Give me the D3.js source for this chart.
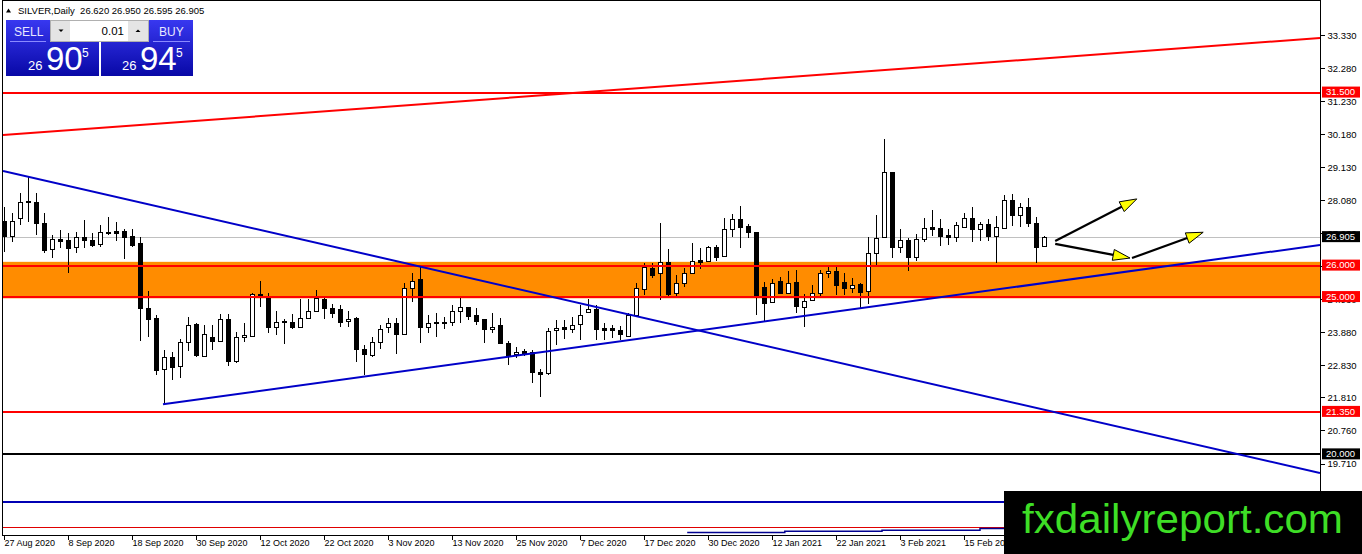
<!DOCTYPE html>
<html>
<head>
<meta charset="utf-8">
<script src="https://cdnjs.cloudflare.com/ajax/libs/d3/7.8.5/d3.min.js"></script>
<style>
  body { margin: 0; background: #fff; }
  svg { display: block; }
</style>
</head>
<body>
<script>
'use strict';

// daily OHLC, SILVER, 27 Aug 2020 .. 26 Feb 2021
var opens = [
  27.41, 26.94, 27.51, 28.05, 28.02, 27.35, 26.52, 26.84, 26.81, 26.59,
  26.90, 26.81, 26.68, 27.07, 27.10, 27.10, 26.94, 26.71, 24.64, 24.33,
  22.70, 23.08, 22.80, 23.56, 24.14, 23.12, 23.72, 23.59, 24.29, 22.96,
  23.72, 23.75, 25.09, 25.03, 24.04, 24.23, 24.20, 24.04, 24.33, 24.55,
  24.93, 24.64, 24.61, 24.23, 24.33, 23.34, 23.15, 23.56, 24.04, 24.17,
  23.82, 25.28, 25.57, 24.04, 24.20, 24.20, 24.20, 24.55, 24.68, 24.42,
  24.29, 23.98, 24.10, 23.53, 23.18, 23.28, 23.24, 22.61, 22.58, 23.94,
  24.04, 23.98, 24.13, 24.52, 24.61, 24.01, 24.01, 23.94, 23.75, 24.42,
  25.25, 25.92, 25.76, 26.11, 25.12, 25.44, 25.76, 26.17, 26.14, 26.59,
  26.30, 27.16, 27.48, 27.25, 27.06, 25.31, 24.84, 25.50, 25.12, 25.47,
  24.68, 24.90, 25.12, 25.76, 25.82, 25.47, 25.28, 25.41, 25.19, 26.39,
  26.90, 28.97, 26.59, 26.81, 26.27, 26.84, 27.22, 27.19, 26.97, 26.90,
  27.22, 27.51, 27.16, 27.32, 26.94, 27.19, 28.08, 27.60, 27.86, 27.35,
  26.620
];
var highs = [
  27.86, 27.67, 28.30, 28.81, 28.30, 27.67, 26.97, 27.13, 27.03, 27.06,
  27.44, 27.03, 27.29, 27.54, 27.38, 27.16, 27.16, 26.90, 25.19, 24.42,
  23.31, 23.24, 23.66, 24.36, 24.17, 24.10, 24.10, 24.45, 24.45, 23.88,
  24.17, 25.12, 25.50, 25.12, 24.55, 24.29, 24.45, 24.93, 24.93, 25.22,
  24.96, 24.77, 24.74, 24.55, 24.36, 23.47, 23.72, 24.10, 24.33, 24.33,
  25.44, 25.76, 25.95, 24.42, 24.49, 24.36, 24.74, 24.96, 24.68, 24.64,
  24.29, 24.49, 24.33, 23.59, 23.40, 23.34, 23.31, 22.70, 24.01, 24.26,
  24.26, 24.36, 24.74, 24.93, 24.74, 24.17, 24.10, 24.07, 24.49, 25.44,
  26.08, 26.08, 27.35, 26.52, 25.69, 25.92, 26.71, 26.55, 26.62, 26.65,
  27.51, 27.64, 27.89, 27.32, 27.06, 25.47, 25.57, 25.63, 25.82, 25.85,
  25.09, 25.38, 25.85, 25.95, 25.95, 25.76, 25.60, 25.44, 26.90, 27.60,
  30.02, 28.97, 27.16, 26.87, 27.00, 27.51, 27.76, 27.48, 27.16, 27.38,
  27.67, 27.86, 27.38, 27.48, 27.57, 28.24, 28.27, 27.99, 28.14, 27.54,
  26.950
];
var lows = [
  26.43, 26.74, 27.29, 27.38, 26.97, 26.40, 26.24, 26.55, 25.76, 26.39,
  26.55, 26.59, 26.59, 26.97, 26.78, 26.20, 26.59, 23.59, 23.72, 22.51,
  21.59, 22.35, 22.42, 23.28, 23.09, 23.09, 23.31, 23.56, 22.80, 22.90,
  23.56, 23.72, 24.68, 23.85, 23.79, 23.50, 23.98, 24.04, 24.29, 24.52,
  24.29, 24.33, 24.04, 24.04, 22.93, 22.51, 23.09, 23.34, 23.85, 23.18,
  23.82, 24.84, 23.53, 23.85, 23.72, 23.98, 24.07, 24.17, 24.26, 24.10,
  23.53, 23.85, 23.50, 22.83, 23.05, 23.12, 22.26, 21.81, 22.51, 23.47,
  23.66, 23.85, 23.63, 24.49, 23.63, 23.63, 23.69, 23.63, 23.72, 24.36,
  25.06, 25.60, 24.90, 25.00, 25.03, 25.31, 25.73, 25.89, 26.11, 26.14,
  26.27, 26.90, 26.55, 26.87, 24.42, 24.20, 24.80, 25.09, 25.09, 24.49,
  24.04, 24.87, 24.96, 25.60, 25.06, 25.06, 25.12, 24.64, 24.77, 26.01,
  26.90, 26.24, 26.39, 25.82, 26.14, 26.74, 26.94, 26.62, 26.65, 26.74,
  27.19, 26.74, 26.78, 26.78, 26.08, 27.19, 27.25, 27.22, 27.22, 26.08,
  26.595
];
var closes = [
  26.94, 27.41, 28.02, 28.04, 27.35, 26.49, 26.84, 26.78, 26.55, 26.90,
  26.81, 26.65, 27.06, 27.06, 27.03, 26.90, 26.65, 24.64, 24.29, 22.67,
  23.08, 22.77, 23.56, 24.10, 23.15, 23.82, 23.59, 24.29, 22.96, 23.72,
  23.78, 25.09, 25.03, 24.04, 24.20, 24.20, 24.04, 24.33, 24.55, 24.96,
  24.64, 24.49, 24.20, 24.29, 23.34, 23.18, 23.56, 23.98, 24.17, 23.82,
  25.28, 25.50, 24.04, 24.17, 24.17, 24.21, 24.55, 24.68, 24.39, 24.23,
  23.98, 24.04, 23.53, 23.15, 23.24, 23.21, 22.61, 22.54, 23.91, 24.01,
  23.98, 24.10, 24.42, 24.61, 23.98, 23.94, 23.94, 23.82, 24.42, 25.28,
  25.95, 25.69, 26.11, 25.09, 25.44, 25.76, 26.14, 26.11, 26.59, 26.27,
  27.16, 27.48, 27.22, 27.06, 25.06, 24.80, 25.44, 25.12, 25.44, 24.71,
  24.87, 25.12, 25.76, 25.82, 25.38, 25.28, 25.38, 25.15, 26.39, 26.87,
  28.97, 26.59, 26.81, 26.27, 26.84, 27.19, 27.16, 26.94, 26.90, 27.29,
  27.51, 27.16, 27.32, 26.94, 27.22, 28.08, 27.60, 27.86, 27.35, 26.59,
  26.905
];

var dateTickBars = [0, 8, 16, 24, 32, 40, 48, 56, 64, 72, 80, 88, 96, 104, 112, 120];
var dateTickLabels = [
  '27 Aug 2020', '8 Sep 2020', '18 Sep 2020', '30 Sep 2020', '12 Oct 2020',
  '22 Oct 2020', '3 Nov 2020', '13 Nov 2020', '25 Nov 2020', '7 Dec 2020',
  '17 Dec 2020', '30 Dec 2020', '12 Jan 2021', '22 Jan 2021', '3 Feb 2021',
  '15 Feb 2021'
];
var priceTicks = [33.33, 32.28, 31.23, 30.18, 29.13, 28.08, 27.03, 25.98,
  24.93, 23.88, 22.83, 21.81, 20.76, 19.71];

// drawn objects: levels, zone, trendlines [bar, price]
var redLevels = [31.5, 26.0, 25.0, 21.35];
var blackLevels = [20.0];
var zone = [24.96, 26.12];
var redTrend = [[-0.125, 30.15], [164.5, 33.235]];
var blueDownTrend = [[-0.125, 29.01], [164.5, 19.41]];
var blueUpTrend = [[19.875, 21.59], [164.5, 26.655]];
var blueLowLevel = 18.50;
var redLowLevel = 17.69;
var stepLine = [[85.4, 17.52], [97.6, 17.56], [109.75, 17.59], [122, 17.64], [126, 17.64]];
var arrows = [
  [[131.4, 26.78], [141.6, 28.12]],
  [[131.4, 26.69], [140.75, 26.24]],
  [[141.0, 26.24], [149.9, 27.06]]
];
var bid = '26.905', ask = '26.945', lot = '0.01';

var W = 1362, H = 554;
var plotL = 2.5, plotR = 1320.5, plotT = 0.5, plotB = 535.5;

var svg = d3.select('body').append('svg')
    .attr('width', W)
    .attr('height', H)
    .style('font-family', '"Liberation Sans", Arial, sans-serif');

var defs = svg.append('defs');
defs.append('clipPath').attr('id', 'plot-clip')
  .append('rect')
    .attr('x', plotL + 0.5).attr('y', plotT + 0.5)
    .attr('width', plotR - plotL - 1).attr('height', plotB - plotT - 1);

var btnGrad = defs.append('linearGradient').attr('id', 'btn-grad')
    .attr('x1', 0).attr('y1', 0).attr('x2', 0).attr('y2', 1);
btnGrad.append('stop').attr('offset', '0%').attr('stop-color', '#3838f0');
btnGrad.append('stop').attr('offset', '100%').attr('stop-color', '#0808a6');

var x = d3.scaleLinear().domain([0, 130]).range([4, 1044]);
var y = d3.scaleLinear().domain([19.71, 33.33]).range([463.5, 35]);

var bars = d3.range(opens.length).map(function(i) {
    return {i: i, o: opens[i], h: highs[i], l: lows[i], c: closes[i]};
});

var plot = svg.append('g').attr('clip-path', 'url(#plot-clip)');

// current bid line
plot.append('line')
    .attr('x1', plotL).attr('x2', plotR)
    .attr('y1', Math.round(y(+bid)) + 0.5).attr('y2', Math.round(y(+bid)) + 0.5)
    .attr('stroke', '#c0c0c0');

// support / resistance zone
plot.append('rect')
    .attr('x', plotL).attr('width', plotR - plotL)
    .attr('y', y(zone[1])).attr('height', y(zone[0]) - y(zone[1]))
    .attr('fill', '#ff8c00');

// candles
var candle = plot.append('g').attr('shape-rendering', 'crispEdges')
  .selectAll('g').data(bars).enter().append('g');

candle.append('line')
    .attr('x1', function(d) { return Math.round(x(d.i)) + 0.5; })
    .attr('x2', function(d) { return Math.round(x(d.i)) + 0.5; })
    .attr('y1', function(d) { return y(d.h); })
    .attr('y2', function(d) { return y(d.l); })
    .attr('stroke', '#000');

candle.append('rect')
    .attr('x', function(d) { return Math.round(x(d.i)) - 1.5; })
    .attr('width', 4)
    .attr('y', function(d) { return Math.round(y(Math.max(d.o, d.c))) + 0.5; })
    .attr('height', function(d) {
        return Math.max(1, Math.round(y(Math.min(d.o, d.c))) - Math.round(y(Math.max(d.o, d.c))));
    })
    .attr('fill', function(d) { return d.c >= d.o ? '#fff' : '#000'; })
    .attr('stroke', '#000');

// horizontal levels
function hline(v, color, width) {
    var yy = Math.round(y(v)) + (width % 2 ? 0.5 : 0);
    plot.append('line')
        .attr('x1', plotL).attr('x2', plotR)
        .attr('y1', yy).attr('y2', yy)
        .attr('stroke', color).attr('stroke-width', width);
}
redLevels.forEach(function(v) { hline(v, '#ff0000', 2); });
blackLevels.forEach(function(v) { hline(v, '#000000', 2); });
hline(blueLowLevel, '#0000b4', 2);
hline(redLowLevel, '#e00000', 1);

var lineGen = d3.line()
    .x(function(d) { return x(d[0]); })
    .y(function(d) { return y(d[1]); });

plot.append('path').datum(stepLine)
    .attr('d', lineGen.curve(d3.curveStepAfter))
    .attr('fill', 'none').attr('stroke', '#000090').attr('stroke-width', 1.5);
lineGen.curve(d3.curveLinear);

plot.append('path').datum(redTrend).attr('d', lineGen)
    .attr('fill', 'none').attr('stroke', '#ff0000').attr('stroke-width', 2);
plot.append('path').datum(blueDownTrend).attr('d', lineGen)
    .attr('fill', 'none').attr('stroke', '#0000c8').attr('stroke-width', 2);
plot.append('path').datum(blueUpTrend).attr('d', lineGen)
    .attr('fill', 'none').attr('stroke', '#0000c8').attr('stroke-width', 2);

// arrows
arrows.forEach(function(a) {
    var x0 = x(a[0][0]), y0 = y(a[0][1]), x1 = x(a[1][0]), y1 = y(a[1][1]);
    var ang = Math.atan2(y1 - y0, x1 - x0);
    var len = 17, hw = 5.5;
    var bx = x1 - len * Math.cos(ang), by = y1 - len * Math.sin(ang);
    plot.append('line')
        .attr('x1', x0).attr('y1', y0).attr('x2', bx).attr('y2', by)
        .attr('stroke', '#000').attr('stroke-width', 2.2);
    var pts = [
        [x1, y1],
        [bx + hw * Math.sin(ang), by - hw * Math.cos(ang)],
        [bx - hw * Math.sin(ang), by + hw * Math.cos(ang)]
    ];
    plot.append('polygon')
        .attr('points', pts.map(function(p) { return p.join(','); }).join(' '))
        .attr('fill', '#ffff00').attr('stroke', '#000').attr('stroke-width', 1);
});

// frame
svg.append('rect')
    .attr('x', plotL).attr('y', plotT)
    .attr('width', plotR - plotL).attr('height', plotB - plotT)
    .attr('fill', 'none').attr('stroke', '#000').attr('shape-rendering', 'crispEdges');

// price axis
var yAxis = svg.append('g')
    .attr('transform', 'translate(' + plotR + ',0)')
    .call(d3.axisRight(y).tickValues(priceTicks).tickSize(4).tickPadding(3)
        .tickFormat(d3.format('.3f')));
yAxis.select('.domain').remove();
yAxis.selectAll('text').attr('font-size', 9.5).attr('fill', '#000').attr('font-family', null);
yAxis.selectAll('line').attr('shape-rendering', 'crispEdges');

var marks = redLevels.map(function(v) { return {v: v, c: '#ff0000'}; })
    .concat(blackLevels.map(function(v) { return {v: v, c: '#000'}; }))
    .concat([{v: +bid, c: '#000'}]);
var markG = svg.append('g').selectAll('g').data(marks).enter().append('g')
    .attr('transform', function(d) { return 'translate(1322,' + y(d.v) + ')'; });
markG.append('rect')
    .attr('x', 0).attr('y', -6).attr('width', 38).attr('height', 11)
    .attr('fill', function(d) { return d.c; });
markG.append('text')
    .attr('x', 4).attr('y', 0).attr('dy', '0.3em')
    .attr('font-size', 9.5).attr('fill', '#fff')
    .text(function(d) { return d3.format('.3f')(d.v); });

// date axis
var xAxis = svg.append('g')
    .attr('transform', 'translate(0,' + plotB + ')')
    .call(d3.axisBottom(x).tickValues(dateTickBars).tickSize(4)
        .tickFormat(function(d, i) { return dateTickLabels[i]; }));
xAxis.select('.domain').remove();
xAxis.selectAll('line').attr('shape-rendering', 'crispEdges');
xAxis.selectAll('text')
    .attr('text-anchor', 'start').attr('x', 0).attr('y', 4)
    .attr('font-size', 9).attr('fill', '#000').attr('font-family', null);

// header line
var hdr = svg.append('g');
hdr.append('path').attr('d', 'M6,12.5 L8.5,8.5 L11,12.5 Z').attr('fill', '#000');
hdr.append('text')
    .attr('x', 18).attr('y', 14)
    .attr('font-size', 9.5)
    .style('white-space', 'pre')
    .text('SILVER,Daily  ' + [opens, highs, lows, closes].map(function(a) {
        return d3.format('.3f')(a[a.length - 1]);
    }).join(' '));

// one-click trading panel
var panel = svg.append('g');
panel.append('path').attr('d', 'M6,20 H50 V42 H99 V76 H6 Z').attr('fill', 'url(#btn-grad)');
panel.append('path').attr('d', 'M149,20 H193 V76 H101 V42 H149 Z').attr('fill', 'url(#btn-grad)');
panel.append('line').attr('x1', 10).attr('x2', 46).attr('y1', 41.5).attr('y2', 41.5)
    .attr('stroke', '#8a8aff');
panel.append('line').attr('x1', 153).attr('x2', 190).attr('y1', 41.5).attr('y2', 41.5)
    .attr('stroke', '#8a8aff');
panel.append('text').attr('x', 14).attr('y', 36).attr('font-size', 12)
    .attr('fill', '#e8e8ff').text('SELL');
panel.append('text').attr('x', 159).attr('y', 36).attr('font-size', 12)
    .attr('fill', '#e8e8ff').text('BUY');

panel.append('rect').attr('x', 50.5).attr('y', 20.5).attr('width', 98).attr('height', 21)
    .attr('fill', '#ffffff').attr('stroke', '#b0b0b0');
panel.append('rect').attr('x', 51).attr('y', 21).attr('width', 19).attr('height', 20).attr('fill', '#e4e4e4');
panel.append('rect').attr('x', 128).attr('y', 21).attr('width', 20).attr('height', 20).attr('fill', '#e4e4e4');
panel.append('path').attr('d', 'M58.5,29.5 L63.5,29.5 L61,32 Z').attr('fill', '#000');
panel.append('path').attr('d', 'M135.5,32 L140.5,32 L138,29.5 Z').attr('fill', '#000');
panel.append('text').attr('x', 124).attr('y', 35).attr('font-size', 11.5)
    .attr('text-anchor', 'end').attr('fill', '#000').text(lot);

function quote(x0, s) {
    var g = panel.append('g').attr('fill', '#fff');
    g.append('text').attr('x', x0).attr('y', 70).attr('font-size', 13).text(s.slice(0, 2));
    g.append('text').attr('x', x0 + 18).attr('y', 70).attr('font-size', 33).text(s.slice(3, 5));
    g.append('text').attr('x', x0 + 54).attr('y', 57).attr('font-size', 12).text(s.slice(5));
}
quote(28, bid);
quote(122, ask);

// watermark
svg.append('rect').attr('x', 1004).attr('y', 491).attr('width', W - 1004).attr('height', H - 491)
    .attr('fill', '#000');
svg.append('text')
    .attr('x', 1022).attr('y', 533)
    .attr('font-size', 41)
    .attr('textLength', 321).attr('lengthAdjust', 'spacingAndGlyphs')
    .attr('fill', '#3ede26')
    .text('fxdailyreport.com');
</script>
</body>
</html>
